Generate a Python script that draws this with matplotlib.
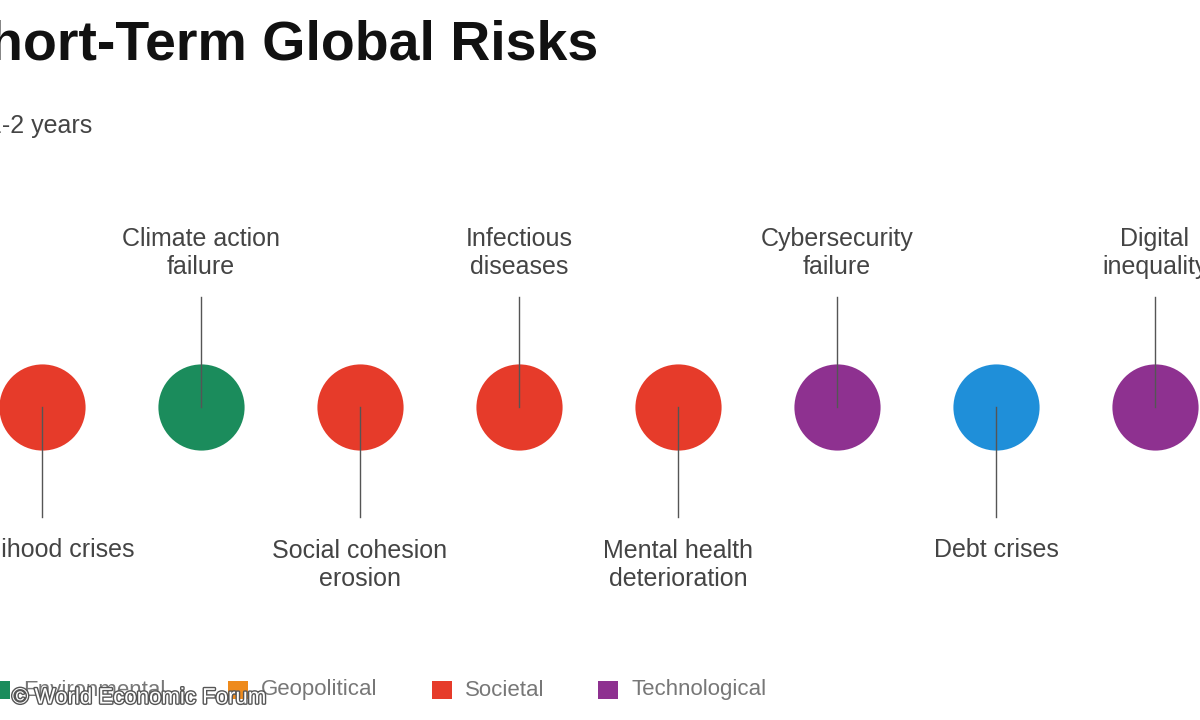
import matplotlib
matplotlib.use("Agg")
import matplotlib.pyplot as plt
import matplotlib.patheffects as pe

plt.rcParams["font.family"] = "Liberation Sans"

risks = ["Livelihood crises", "Climate action\nfailure", "Social cohesion\nerosion", "Infectious\ndiseases",
         "Mental health\ndeterioration", "Cybersecurity\nfailure", "Debt crises", "Digital\ninequality"]
categories = ["Societal", "Environmental", "Societal", "Societal", "Societal", "Technological", "Economic", "Technological"]
legend_cats = ["Environmental", "Geopolitical", "Societal", "Technological"]
colors = {"Economic": "#1f8fd9", "Environmental": "#1b8c5c", "Geopolitical": "#ee8a1c",
          "Societal": "#e63b2a", "Technological": "#8e3190"}

fig = plt.figure(figsize=(12, 7.2), dpi=100)
ax = fig.add_axes([0, 0, 1, 1])
ax.set_xlim(0, 1200); ax.set_ylim(720, 0); ax.axis("off")

xs = [42 + i * 159 for i in range(len(risks))]
cy = 407
for i, (x, r, c) in enumerate(zip(xs, risks, categories)):
    ax.scatter([x], [cy], s=3850, color=colors[c], zorder=2, linewidths=0)
    if i % 2 == 1:
        ax.plot([x, x], [297, cy], color="#555555", lw=1, zorder=3)
        ax.text(x, 253, r, ha="center", va="center", fontsize=18, color="#444444", linespacing=1.25)
    else:
        ax.plot([x, x], [cy, 517], color="#555555", lw=1, zorder=3)
        ax.text(x, 565 if "\n" in r else 550, r, ha="center", va="center", fontsize=18,
                color="#444444", linespacing=1.25)

ax.text(-48, 45, "Short-Term Global Risks", ha="left", va="center", fontsize=40,
        fontweight="bold", color="#111111")
ax.text(-12, 126, "1-2 years", ha="left", va="center", fontsize=18, color="#444444")

lx = [-10, 228, 432, 598]
for x, c in zip(lx, legend_cats):
    ax.add_patch(plt.Rectangle((x, 681), 20, 18, color=colors[c], lw=0))
    ax.text(x + 33, 690, c, ha="left", va="center", fontsize=16, color="#777777")

ax.text(12, 698, "© World Economic Forum", ha="left", va="center", fontsize=16, color="white",
        path_effects=[pe.withStroke(linewidth=2, foreground="#555555")], zorder=5)

fig.savefig("out.png", dpi=100, facecolor="white")
